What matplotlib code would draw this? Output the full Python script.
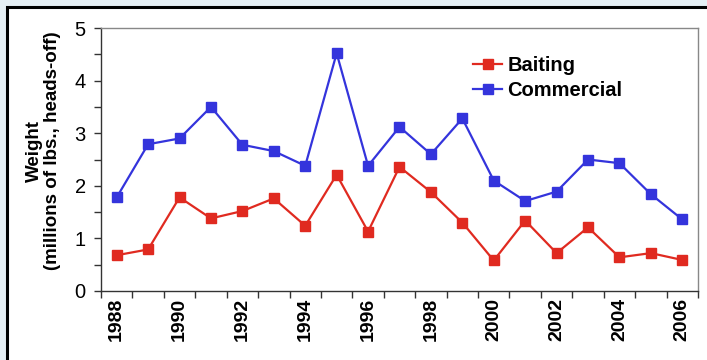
import matplotlib
matplotlib.use("Agg")
import matplotlib.pyplot as plt
from matplotlib.patches import Rectangle
import numpy as np

plt.rcParams['font.family'] = ['Liberation Sans', 'DejaVu Sans']

years = list(range(1988, 2007))
baiting = [0.68, 0.79, 1.78, 1.38, 1.52, 1.76, 1.24, 2.21, 1.13, 2.36, 1.88,
           1.30, 0.58, 1.34, 0.72, 1.21, 0.64, 0.72, 0.59]
commercial = [1.78, 2.79, 2.90, 3.50, 2.78, 2.66, 2.38, 4.52, 2.38, 3.12, 2.60,
              3.28, 2.10, 1.71, 1.89, 2.50, 2.43, 1.84, 1.36]
series_names = ["Baiting", "Commercial"]
ylabel = "Weight\n(millions of lbs., heads-off)"

W, H = 707, 360
fig = plt.figure(figsize=(W / 100, H / 100), dpi=100)
fig.patch.set_facecolor('#e5eff4')

# white panel with black frame
frame = Rectangle((7 / W, -0.1), 1.2, 1 - 7 / H + 0.1, transform=fig.transFigure,
                  facecolor='white', edgecolor='black', linewidth=2.2, zorder=-10)
fig.patches.append(frame)

ax = fig.add_axes([101 / W, 1 - 291 / H, 597 / W, 263 / H])
ax.set_zorder(1)
ax.set_facecolor('white')

x = np.arange(len(years))
red = '#e02a20'
blue = '#3434dc'
ax.plot(x, baiting, color=red, lw=1.6, marker='s', ms=7.4, mec=red, mfc=red,
        label=series_names[0], zorder=3)
ax.plot(x, commercial, color=blue, lw=1.6, marker='s', ms=7.4, mec=blue, mfc=blue,
        label=series_names[1], zorder=3)

ax.set_xlim(-0.5, len(years) - 0.5)
ax.set_ylim(0, 5)

ax.set_xticks(x[::2])
ax.set_xticklabels([str(y) for y in years[::2]], rotation=90, fontweight='bold',
                   fontsize=14)
ax.set_xticks(np.arange(-0.5, len(years), 1), minor=True)
ax.tick_params(axis='x', which='major', length=0, pad=5)
ax.tick_params(axis='x', which='minor', length=5, direction='out', width=1,
               color='#333333')

ax.set_yticks([0, 1, 2, 3, 4, 5])
ax.set_yticks(np.arange(0, 5.01, 0.5), minor=True)
ax.tick_params(axis='y', which='both', length=5, direction='out', width=1,
               color='#333333', labelsize=14.5, pad=6)

for s in ['left', 'bottom']:
    ax.spines[s].set_color('#333333')
    ax.spines[s].set_linewidth(1.0)
for s in ['top', 'right']:
    ax.spines[s].set_color('#888888')
    ax.spines[s].set_linewidth(1.0)

fig.text(43.5 / W, 1 - 151 / H, ylabel, rotation=90, ha='center', va='center',
         multialignment='center', fontsize=13.5, fontweight='bold',
         linespacing=1.15)

leg = ax.legend(loc='upper left', bbox_to_anchor=(0.623, 0.893), frameon=False,
                prop={'weight': 'bold', 'size': 14.5}, handlelength=1.45,
                handletextpad=0.25, labelspacing=0.3, borderpad=0,
                borderaxespad=0)

fig.savefig('out.png', dpi=100, facecolor=fig.get_facecolor())
